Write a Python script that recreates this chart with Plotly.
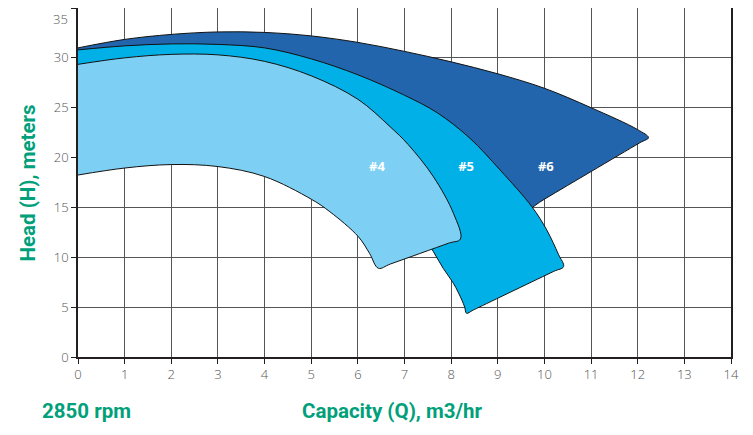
import plotly.graph_objects as go

# Impeller #6 envelope: top curve, straight tip edge, hidden lower part
imp6_x = [0, 1, 2, 3, 4, 5, 6, 7, 8, 9, 10, 11, 12, 12.23,
          12.05, 11.0, 10.0, 9.2, 8.4, 6.5, 4.5, 2.0, 0]
imp6_y = [31.0, 31.85, 32.35, 32.6, 32.55, 32.2, 31.55, 30.65, 29.6, 28.4, 26.95, 25.0, 22.8, 22.0,
          21.5, 18.6, 15.83, 13.62, 14.5, 20.0, 23.5, 25.0, 25.0]

# Impeller #5 envelope
imp5_x = [0, 1, 2, 3, 4, 5, 6, 7, 7.7, 8.4, 9.05, 9.73, 10.05, 10.3, 10.41,
          10.2, 8.55, 8.45, 8.33, 8.29, 8.23, 8.05, 7.83, 7.62, 7.35, 6.5, 5.0, 3.0, 1.0, 0]
imp5_y = [30.8, 31.2, 31.4, 31.35, 31.0, 29.9, 28.3, 26.25, 24.5, 21.95, 18.75, 15.08, 12.74, 10.3, 9.06,
          8.59, 4.88, 4.65, 4.38, 5.0, 5.71, 7.38, 8.89, 10.56, 12.5, 15.5, 19.0, 21.0, 21.0, 21.0]

# Impeller #4 envelope
imp4_x = [0, 1, 2, 3, 4, 5, 6, 6.69, 7.08, 7.62, 8.05, 8.2,
          7.95, 6.7, 6.44, 6.25, 6.01, 5.40, 5.01, 4.0, 3.0, 2.0, 1.0, 0]
imp4_y = [29.35, 30.0, 30.35, 30.3, 29.65, 28.2, 25.85, 23.1, 21.3, 18.08, 14.4, 11.84,
          11.42, 9.33, 8.9, 10.4, 12.07, 14.57, 15.8, 18.1, 19.1, 19.3, 18.95, 18.25]

labels = ["#4", "#5", "#6"]
label_x = [6.41, 8.32, 10.03]
label_y = [19.0, 19.0, 19.0]

x_ticks = list(range(0, 15))
y_ticks = [0, 5, 10, 15, 20, 25, 30, 35]
y_tick_text = ["0", "5", "10", "15", "20", "25", "30", "35"]

colors = {"#6": "#2265ad", "#5": "#00b0e6", "#4": "#7dd0f4"}
green = "#00a07a"
tick_font = dict(family="Open Sans", size=13, color="#555555", weight=300)

fig = go.Figure()
for name, xs, ys in [("#6", imp6_x, imp6_y), ("#5", imp5_x, imp5_y), ("#4", imp4_x, imp4_y)]:
    fig.add_trace(go.Scatter(
        x=xs, y=ys, fill="toself", mode="lines",
        fillcolor=colors[name],
        line=dict(color="#111111", width=1, shape="spline", smoothing=1.0),
        hoverinfo="skip", showlegend=False))

fig.add_trace(go.Scatter(
    x=label_x, y=label_y, mode="text", text=labels,
    textfont=dict(family="Open Sans", size=13, color="white", weight="bold"),
    showlegend=False, hoverinfo="skip"))

axis_common = dict(
    showgrid=True, gridcolor="#555555", gridwidth=1.2,
    showline=True, linecolor="#231f20", linewidth=1.6, mirror=True,
    ticks="outside", ticklen=5, tickcolor="#231f20", tickwidth=1,
    tickfont=tick_font, zeroline=False, automargin=False,
)

fig.update_xaxes(range=[0, 14], tickvals=x_ticks, **axis_common)
# top label ("35") is drawn as an annotation so it is not clipped at the page edge
fig.update_yaxes(range=[0, 35], tickvals=y_ticks,
                 ticktext=y_tick_text[:-1] + [""], **axis_common)

annotations = [
    dict(text=y_tick_text[-1], xref="paper", yref="y", x=0, y=y_ticks[-1],
         xanchor="right", yanchor="top", xshift=-8, showarrow=False, font=tick_font),
    dict(text="<b>Head (H), meters</b>", xref="paper", yref="paper",
         x=-0.0766, y=0.5, textangle=-90, showarrow=False,
         xanchor="center", yanchor="middle",
         font=dict(family="Roboto", size=20.5, color=green)),
    dict(text="<b>Capacity (Q), m3/hr</b>", xref="paper", yref="paper",
         x=0.482, y=-0.155, showarrow=False, xanchor="center", yanchor="middle",
         font=dict(family="Roboto", size=20.5, color=green)),
    dict(text="<b>2850 rpm</b>", xref="paper", yref="paper",
         x=-0.058, y=-0.155, showarrow=False, xanchor="left", yanchor="middle",
         font=dict(family="Roboto", size=20.5, color=green)),
]

# page has an 8px body margin, so the figure is offset by 8px right/down
fig.update_layout(
    width=737, height=419,
    margin=dict(l=70, r=14, t=0, b=70),
    plot_bgcolor="white", paper_bgcolor="white",
    annotations=annotations,
)

fig.write_html("out.html")
